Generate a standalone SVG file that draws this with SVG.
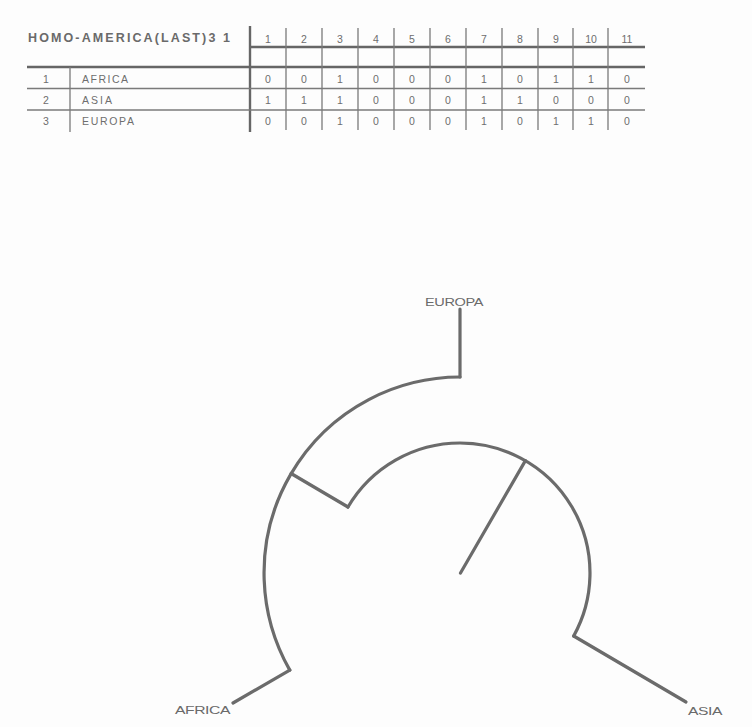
<svg xmlns="http://www.w3.org/2000/svg" width="752" height="727" viewBox="0 0 752 727">
<style>
  .bg { fill: #fdfdfd; }
  .tl { stroke: #7a7a7a; stroke-width: 1.3; fill: none; }
  .tk { stroke: #666; stroke-width: 2.4; fill: none; }
  .tt { font-family: "Liberation Sans", Arial, sans-serif; font-size: 10.5px; fill: #6e6e6e; }
  .tc { text-anchor: middle; }
  .title { font-family: "Liberation Sans", Arial, sans-serif; font-size: 12.5px; font-weight: bold; fill: #6a6a6a; }
  .br { stroke: #6b6b6b; stroke-width: 3.2; fill: none; stroke-linecap: round; stroke-linejoin: round; }
  .lbl { font-family: "Liberation Sans", Arial, sans-serif; font-size: 11px; fill: #6a6a6a; letter-spacing: -0.3px; }
</style>
<rect class="bg" x="0" y="0" width="752" height="727"/>

<g id="table">
  <text class="title" x="28" y="42" textLength="202" lengthAdjust="spacing">HOMO-AMERICA(LAST)3 1</text>
  <line class="tk" x1="250" y1="26" x2="250" y2="132"/>
  <line class="tk" x1="250" y1="47" x2="645" y2="47"/>
  <line class="tk" x1="27" y1="67" x2="645" y2="67"/>
  <line class="tl" x1="27" y1="88.5" x2="645" y2="88.5"/>
  <line class="tl" x1="27" y1="110" x2="645" y2="110"/>
  <line class="tl" x1="70" y1="67" x2="70" y2="132"/>
  <g class="tl">
    <line x1="286" y1="28" x2="286" y2="130"/>
    <line x1="322" y1="28" x2="322" y2="130"/>
    <line x1="358" y1="28" x2="358" y2="130"/>
    <line x1="394" y1="28" x2="394" y2="130"/>
    <line x1="430" y1="28" x2="430" y2="130"/>
    <line x1="466" y1="28" x2="466" y2="130"/>
    <line x1="502" y1="28" x2="502" y2="130"/>
    <line x1="538" y1="28" x2="538" y2="130"/>
    <line x1="573" y1="28" x2="573" y2="130"/>
    <line x1="608" y1="28" x2="608" y2="130"/>
  </g>
  <g class="tt tc">
    <text x="268" y="43">1</text>
    <text x="304" y="43">2</text>
    <text x="340" y="43">3</text>
    <text x="376" y="43">4</text>
    <text x="412" y="43">5</text>
    <text x="448" y="43">6</text>
    <text x="484" y="43">7</text>
    <text x="520" y="43">8</text>
    <text x="556" y="43">9</text>
    <text x="591" y="43">10</text>
    <text x="627" y="43">11</text>
  </g>
  <g class="tt">
    <text class="tc" x="46" y="83">1</text>
    <text class="tc" x="46" y="104">2</text>
    <text class="tc" x="46" y="125">3</text>
    <text x="82" y="83" textLength="46" lengthAdjust="spacing">AFRICA</text>
    <text x="82" y="104" textLength="30" lengthAdjust="spacing">ASIA</text>
    <text x="82" y="125" textLength="52" lengthAdjust="spacing">EUROPA</text>
  </g>
  <g class="tt tc">
    <text x="268" y="83">0</text><text x="304" y="83">0</text><text x="340" y="83">1</text><text x="376" y="83">0</text><text x="412" y="83">0</text><text x="448" y="83">0</text><text x="484" y="83">1</text><text x="520" y="83">0</text><text x="556" y="83">1</text><text x="591" y="83">1</text><text x="627" y="83">0</text>
    <text x="268" y="104">1</text><text x="304" y="104">1</text><text x="340" y="104">1</text><text x="376" y="104">0</text><text x="412" y="104">0</text><text x="448" y="104">0</text><text x="484" y="104">1</text><text x="520" y="104">1</text><text x="556" y="104">0</text><text x="591" y="104">0</text><text x="627" y="104">0</text>
    <text x="268" y="125">0</text><text x="304" y="125">0</text><text x="340" y="125">1</text><text x="376" y="125">0</text><text x="412" y="125">0</text><text x="448" y="125">0</text><text x="484" y="125">1</text><text x="520" y="125">0</text><text x="556" y="125">1</text><text x="591" y="125">1</text><text x="627" y="125">0</text>
  </g>
</g>

<g id="connectors">
  <path class="br" d="M460,377 A196,196 0 0 0 289.8,670.1"/>
  <path class="br" d="M348,507 A130,130 0 0 1 460,443 A130,130 0 0 1 573.7,636"/>
  <line class="br" x1="291.1" y1="473.5" x2="348" y2="507"/>
  <line class="br" x1="460.5" y1="573" x2="525.4" y2="460.6"/>
  <line class="br" x1="460" y1="377" x2="460" y2="309"/>
  <line class="br" x1="289.8" y1="670.1" x2="233" y2="703"/>
  <line class="br" x1="573.7" y1="636" x2="686" y2="702"/>
</g>

<g id="node-europa">
  <text class="lbl" x="425" y="306" textLength="58" lengthAdjust="spacingAndGlyphs">EUROPA</text>
</g>
<g id="node-africa">
  <text class="lbl" x="175" y="714" textLength="55" lengthAdjust="spacingAndGlyphs">AFRICA</text>
</g>
<g id="node-asia">
  <text class="lbl" x="688" y="715" textLength="34" lengthAdjust="spacingAndGlyphs">ASIA</text>
</g>
</svg>
